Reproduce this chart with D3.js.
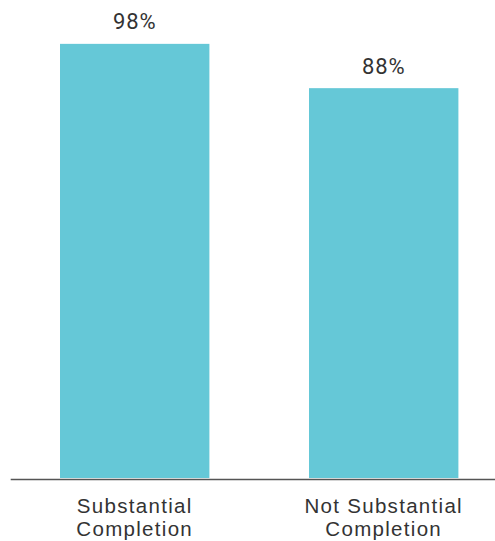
<!DOCTYPE html>
<html>
<head>
<meta charset="utf-8">
<script src="https://cdn.jsdelivr.net/npm/d3@7"></script>
<style>
  html, body { margin: 0; padding: 0; background: #fff; }
  svg { display: block; font-family: Roboto, "Noto Sans", sans-serif; }
</style>
</head>
<body>
<svg id="chart" width="495" height="541"></svg>
<script>
// Share of projects by completion status
const categories = ["Substantial Completion", "Not Substantial Completion"];
const categoryLines = [["Substantial", "Completion"], ["Not Substantial", "Completion"]];
const values = [98, 88];
const valueLabels = ["98%", "88%"];

const width = 495, height = 541;
const baseline = 478;

const svg = d3.select("#chart");

const x = d3.scaleBand()
  .domain(categories)
  .range([10.2, 508.2])
  .paddingInner(0.4)
  .paddingOuter(0.2);

const y = d3.scaleLinear()
  .domain([0, 100])
  .range([baseline, 35]);

// Bars
svg.append("g")
  .selectAll("rect")
  .data(categories)
  .join("rect")
  .attr("x", d => x(d))
  .attr("y", (d, i) => y(values[i]))
  .attr("width", x.bandwidth())
  .attr("height", (d, i) => y(0) - y(values[i]))
  .attr("fill", "#65c8d7");

// Value labels above bars
svg.append("g")
  .selectAll("text")
  .data(categories)
  .join("text")
  .attr("x", d => x(d) + x.bandwidth() / 2)
  .attr("y", (d, i) => y(values[i]) - 14.5)
  .attr("text-anchor", "middle")
  .attr("font-size", 22)
  .attr("letter-spacing", 0.8)
  .attr("fill", "#333")
  .text((d, i) => valueLabels[i]);

// Baseline axis
const axis = svg.append("g")
  .attr("transform", `translate(0,${baseline + 1})`)
  .call(d3.axisBottom(x).tickSize(0).tickFormat(""));
axis.select(".domain").attr("stroke", "#555").attr("stroke-width", 1.6);

// Category labels on two lines
axis.selectAll(".tick text").remove();
axis.selectAll(".tick").each(function(d, i) {
  const t = d3.select(this).append("text")
    .attr("text-anchor", "middle")
    .attr("font-size", 20.5)
    .attr("fill", "#333")
    .attr("letter-spacing", 1.3);
  categoryLines[i].forEach((line, j) => {
    t.append("tspan")
      .attr("x", 0)
      .attr("y", 33.5 + j * 23)
      .text(line);
  });
});
</script>
</body>
</html>
